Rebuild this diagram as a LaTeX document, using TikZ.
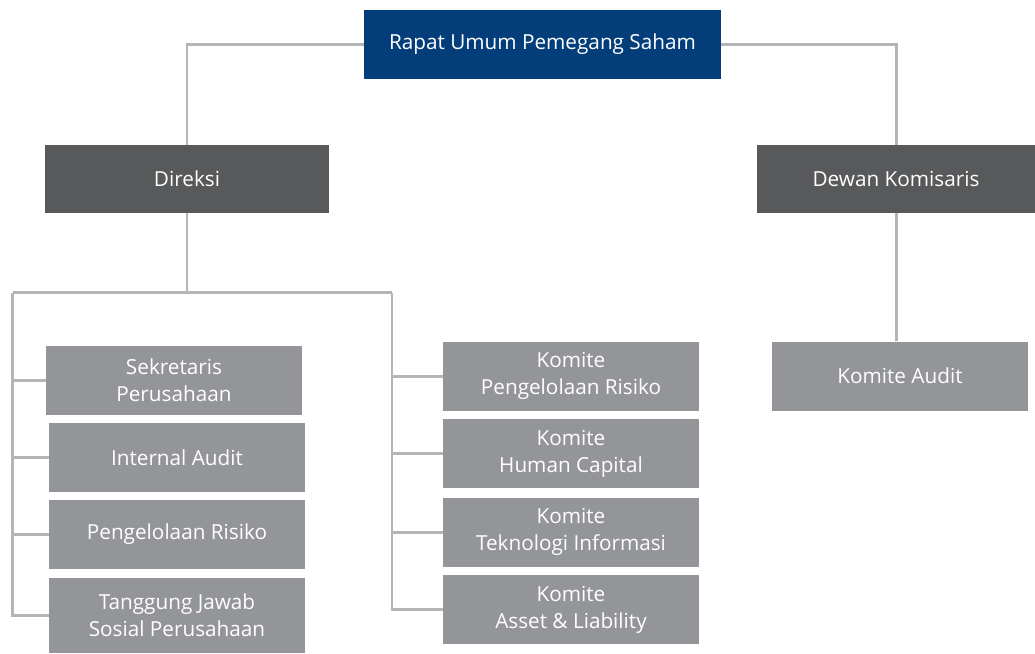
\documentclass[tikz,border=0pt]{standalone}
\usepackage{fontspec}
\setmainfont{Open Sans}
\definecolor{rupsblue}{HTML}{033E7B}
\definecolor{boarddark}{HTML}{58595B}
\definecolor{unitgray}{HTML}{939598}
\definecolor{linegray}{HTML}{B5B5B7}
\tikzset{
	orgbox/.style={fill=unitgray, text=white, inner sep=0pt, minimum width=5.12cm, minimum height=1.38cm, align=center, font=\fontsize{11.8}{15.5}\selectfont},
	boardbox/.style={orgbox, fill=boarddark, minimum height=1.36cm},
	topbox/.style={orgbox, fill=rupsblue, minimum width=7.14cm},
	link/.style={draw=linegray, line width=1.7pt}
}
\begin{document}
\begin{tikzpicture}[x=0.02cm, y=-0.02cm]
	\def\xl{12.5} \def\xr{392} % Jalur cabang
	\def\ybus{292.5}
	\useasboundingbox (0,0) rectangle (1035,653);
	\node[topbox] (rups) at (542.5,44.5) {Rapat Umum Pemegang Saham};
	\node[boardbox, minimum width=5.68cm] (dir) at (187,179) {Direksi};
	\node[boardbox, minimum width=5.56cm] (dekom) at (896,179) {Dewan Komisaris};
	\node[orgbox] (sek) at (174,380.5) {Sekretaris\\Perusahaan};
	\node[orgbox] (ia) at (177,457.5) {Internal Audit};
	\node[orgbox] (pr) at (177,534.5) {Pengelolaan Risiko};
	\node[orgbox, minimum height=1.5cm] (tjsp) at (177,615.5) {Tanggung Jawab\\Sosial Perusahaan};
	\node[orgbox] (kpr) at (571,376) {Komite\\Pengelolaan Risiko};
	\node[orgbox] (khc) at (571,453.5) {Komite\\Human Capital};
	\node[orgbox] (kti) at (571,532) {Komite\\Teknologi Informasi};
	\node[orgbox] (kal) at (571,609.5) {Komite\\Asset \& Liability};
	\node[orgbox] (ka) at (900,376) {Komite Audit};
	\coordinate (busl) at (\xl,\ybus);
	\coordinate (busr) at (\xr,\ybus);
	\draw[link] (rups.west) -| (dir.north);
	\draw[link] (rups.east) -| (dekom.north);
	\draw[link] (dekom.south) -- (dekom.south |- ka.north);
	\draw[link] (dir.south) -- (dir.south |- busl);
	\draw[link] (busl) -- (busr);
	\foreach \n in {sek,ia,pr,tjsp}
		\draw[link] (busl) |- (\n.west);
	\foreach \n in {kpr,khc,kti,kal}
		\draw[link] (busr) |- (\n.west);
\end{tikzpicture}
\end{document}
